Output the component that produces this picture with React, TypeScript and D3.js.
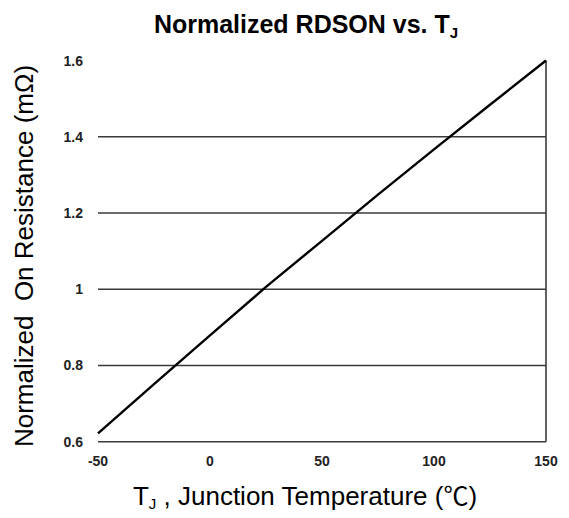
import React from "react";
import * as d3 from "d3";

const temps = [-50, -25, 0, 25, 50, 75, 100, 125, 150];
const rdson = [0.622, 0.751, 0.879, 1.006, 1.127, 1.248, 1.367, 1.484, 1.6];
const xTicks = [-50, 0, 50, 100, 150];
const yTicks = [0.6, 0.8, 1.0, 1.2, 1.4, 1.6];
const gridValues = [0.6, 0.8, 1.0, 1.2, 1.4];

export default function App() {
  const W = 569, H = 518;
  const x = d3.scaleLinear().domain([-50, 150]).range([98, 546]);
  const y = d3.scaleLinear().domain([0.6, 1.6]).range([441.7, 60.5]);
  const line = d3.line<number>().x((_, i) => x(temps[i])).y((d) => y(d));
  const fmt = (v: number) => (Math.abs(v - 1) < 1e-9 ? "1" : d3.format(".1f")(v));
  return (
    <svg width={W} height={H} style={{ position: "absolute", left: 0, top: 0, background: "#fff" }}
      fontFamily="Liberation Sans, Arial, sans-serif">
      <rect width={W} height={H} fill="#fff" />
      {gridValues.map((v) => (
        <line key={v} x1={x(-50)} x2={x(150)} y1={y(v)} y2={y(v)} stroke="#3a3a3a" strokeWidth={1.6} />
      ))}
      <line x1={x(150)} x2={x(150)} y1={y(1.6)} y2={y(0.6)} stroke="#3a3a3a" strokeWidth={1.6} />
      <path d={line(rdson) || ""} fill="none" stroke="#000" strokeWidth={2.4} />
      {yTicks.map((v) => (
        <text key={v} x={83} y={y(v) + 5} textAnchor="end" fontSize={14} fontWeight="bold" fill="#222">
          {fmt(v)}
        </text>
      ))}
      {xTicks.map((v) => (
        <text key={v} x={x(v)} y={466} textAnchor="middle" fontSize={14} fontWeight="bold" fill="#222">
          {v}
        </text>
      ))}
      <text x={306} y={33} textAnchor="middle" fontSize={25} fontWeight="bold" fill="#000">
        Normalized RDSON vs. T<tspan fontSize={15} dy={5}>J</tspan>
      </text>
      <text x={305} y={505} textAnchor="middle" fontSize={26} fill="#000" style={{ whiteSpace: "pre" }}>
        T<tspan fontSize={15} dy={4}>J</tspan><tspan dy={-4}> , Junction Temperature (</tspan>
        <tspan fontFamily="Noto Sans CJK SC" fontSize={25}>℃</tspan><tspan>)</tspan>
      </text>
      <text transform="translate(33,256) rotate(-90)" textAnchor="middle" fontSize={26} fill="#000"
        style={{ whiteSpace: "pre" }}>
        {"Normalized  On Resistance (mΩ)"}
      </text>
    </svg>
  );
}
